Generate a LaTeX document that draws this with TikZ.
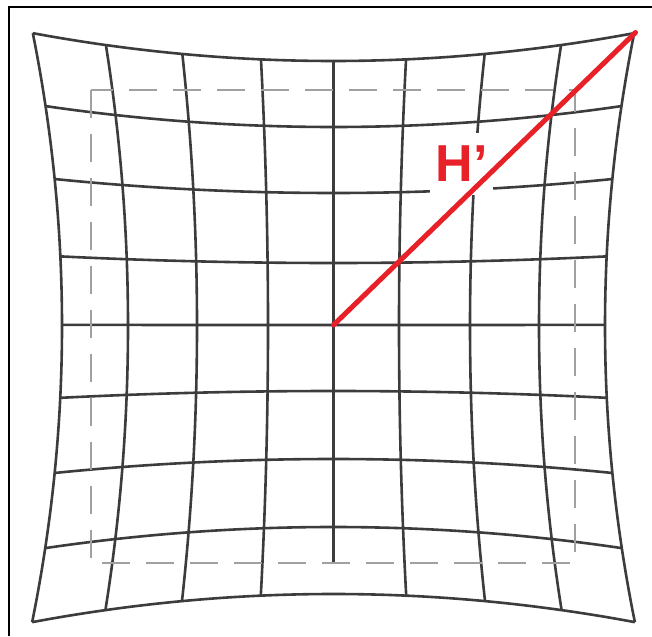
\documentclass[tikz,border=0pt]{standalone}
\usepackage{fontspec}
\setmainfont{Liberation Sans}
\definecolor{gridc}{RGB}{60,60,60}
\definecolor{dashc}{RGB}{160,160,160}
\definecolor{redc}{RGB}{232,32,40}
\tikzset{
  gridline/.style={draw=gridc, line width=2.6pt},
  framebox/.style={draw=dashc, line width=2.6pt, dash pattern=on 28pt off 16pt},
  border/.style={draw=black, line width=2.6pt},
  heightline/.style={draw=redc, line width=5pt, line cap=round},
  labelbox/.style={fill=white, text=redc, inner sep=0pt, minimum width=63pt, minimum height=62pt,
    font=\bfseries\fontsize{52}{52}\selectfont}
}
\begin{document}
\begin{tikzpicture}[x=1pt,y=-1pt]
\useasboundingbox (0,0) rectangle (652,636);
% border (top and left)
\draw[border] (9,636) -- (9,7) -- (652,7);
% vertical grid lines
\foreach \X in {62,128,197,268,399,470,539,605}{
  \draw[gridline] plot[domain=61:594, samples=40, smooth, variable=\t]
   ({333.5+(\X-333.5)*(1+0.1087*((\t-326)/266.5)*((\t-326)/266.5))},
    {326+(\t-326)*(1+0.105*((\X-333.5)/271.5)*((\X-333.5)/271.5))});
}
% central vertical line (stops at the dashed frame)
\coordinate (ctop) at (333.5,61);
\coordinate (cbot) at (333.5,563);
\draw[gridline] (ctop) -- (cbot);
% horizontal grid lines
\foreach \Y in {61,127,193,263,325,391,459,527,594}{
  \draw[gridline] plot[domain=62:605, samples=40, smooth, variable=\s]
   ({333.5+(\s-333.5)*(1+0.1087*((\Y-326)/266.5)*((\Y-326)/266.5))},
    {326+(\Y-326)*(1+0.105*((\s-333.5)/271.5)*((\s-333.5)/271.5))});
}
% dashed frame
\draw[framebox] (91,90) rectangle (575,563);
% label
\node[labelbox] (lbl) at (461.5,164) {H’};
% red line
\coordinate (ctr) at (333.5,325);
\coordinate (tr) at (635.5,32.5);
\draw[heightline] (ctr) -- (tr);
\end{tikzpicture}
\end{document}
